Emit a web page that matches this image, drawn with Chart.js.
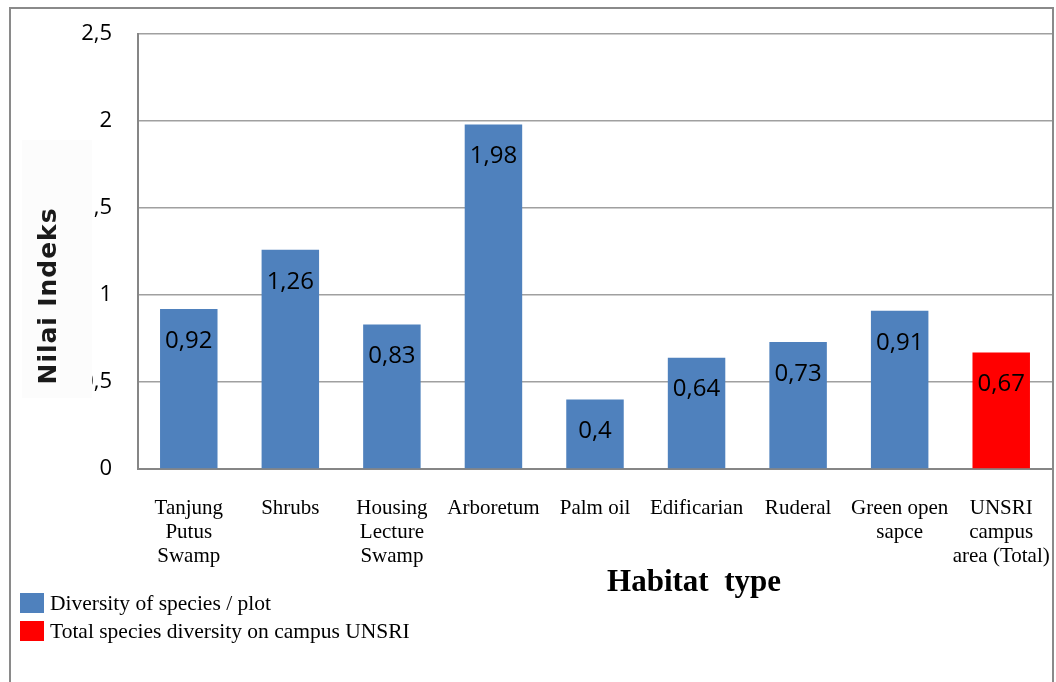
<!DOCTYPE html>
<html>
<head>
<meta charset="utf-8">
<script src="https://cdn.jsdelivr.net/npm/chart.js@4/dist/chart.umd.min.js"></script>
<style>
  html, body { margin: 0; padding: 0; background: #fff; overflow: hidden; }
  #wrap { position: relative; width: 1056px; height: 682px; }
  #frame {
    position: absolute; left: 9px; top: 7px; width: 1045px; height: 700px;
    box-sizing: border-box; border: 2px solid #8a8a8a; border-bottom: none;
    pointer-events: none;
  }
</style>
</head>
<body>
<div id="wrap">
  <canvas id="chart" width="1056" height="682"></canvas>
  <div id="frame"></div>
</div>
<script>
const categories = [
    ['Tanjung', 'Putus', 'Swamp'],
    'Shrubs',
    ['Housing', 'Lecture', 'Swamp'],
    'Arboretum',
    'Palm oil',
    'Edificarian',
    'Ruderal',
    ['Green open', 'sapce'],
    ['UNSRI', 'campus', 'area (Total)']
];
const plotValues = [0.92, 1.26, 0.83, 1.98, 0.4, 0.64, 0.73, 0.91, null];
const totalValues = [null, null, null, null, null, null, null, null, 0.67];
const yTickLabels = ['0', '0,5', '1', '1,5', '2', '2,5'];
const seriesNames = ['Diversity of species / plot', 'Total species diversity on campus UNSRI'];
const yTitle = 'Nilai Indeks';
const xTitle = 'Habitat  type';

const BLUE = '#4f81bd';
const RED = '#ff0000';

function fmt(v) {
    return String(v).replace('.', ',');
}

// value labels inside the top of each bar
const barLabels = {
    id: 'barLabels',
    afterDatasetsDraw(chart) {
        const ctx = chart.ctx;
        ctx.save();
        ctx.font = '24px "Open Sans"';
        ctx.fillStyle = '#000';
        ctx.textAlign = 'center';
        ctx.textBaseline = 'middle';
        chart.data.datasets.forEach((ds, di) => {
            chart.getDatasetMeta(di).data.forEach((bar, i) => {
                const v = ds.data[i];
                if (v === null) return;
                ctx.fillText(fmt(v), bar.x, bar.y + 32);
            });
        });
        ctx.restore();
    }
};

// axis titles and legend, drawn like the original picture
const extras = {
    id: 'extras',
    afterDraw(chart) {
        const ctx = chart.ctx;
        ctx.save();

        // y title sits on a pale box that hides part of the tick labels
        ctx.fillStyle = '#fcfcfc';
        ctx.fillRect(22, 140, 70, 258);
        ctx.translate(49, 296);
        ctx.rotate(-Math.PI / 2);
        ctx.font = 'bold 25px "DejaVu Sans"';
        const w = ctx.measureText(yTitle).width;
        ctx.letterSpacing = Math.max(0, (176 - w) / (yTitle.length - 1)) + 'px';
        ctx.fillStyle = '#1a1a1a';
        ctx.textAlign = 'center';
        ctx.textBaseline = 'middle';
        ctx.fillText(yTitle, 0, 0);
        ctx.restore();

        ctx.save();
        ctx.font = 'bold 31px "Liberation Serif"';
        ctx.fillStyle = '#000';
        ctx.textAlign = 'center';
        ctx.textBaseline = 'middle';
        ctx.fillText(xTitle, 694, 583);

        ctx.font = '21.5px "Liberation Serif"';
        ctx.textAlign = 'left';
        chart.data.datasets.forEach((ds, i) => {
            const y = 593 + i * 28;
            ctx.fillStyle = ds.backgroundColor;
            ctx.fillRect(20, y, 24, 20);
            ctx.fillStyle = '#000';
            ctx.fillText(ds.label, 50, y + 11);
        });
        ctx.restore();
    }
};

new Chart(document.getElementById('chart'), {
    type: 'bar',
    data: {
        labels: categories,
        datasets: [
            { label: seriesNames[0], data: plotValues, backgroundColor: BLUE },
            { label: seriesNames[1], data: totalValues, backgroundColor: RED }
        ]
    },
    options: {
        responsive: false,
        animation: false,
        layout: { padding: { top: 34, right: 4, left: 0, bottom: 0 } },
        datasets: {
            bar: { grouped: false, categoryPercentage: 1, barPercentage: 0.566, borderWidth: 0 }
        },
        plugins: {
            legend: { display: false },
            tooltip: { enabled: false }
        },
        scales: {
            x: {
                grid: { display: false, drawTicks: false },
                border: { color: '#868686', width: 2 },
                ticks: {
                    color: '#000',
                    font: { family: 'Liberation Serif', size: 21, lineHeight: 1.15 },
                    padding: 27,
                    maxRotation: 0,
                    autoSkip: false
                },
                afterFit(scale) {
                    scale.height = 213;
                    scale.paddingLeft = 0;
                    scale.paddingRight = 0;
                }
            },
            y: {
                min: 0,
                max: 2.5,
                grid: { color: '#a0a0a0', lineWidth: 1.5, drawTicks: false },
                border: { color: '#868686', width: 2 },
                ticks: {
                    stepSize: 0.5,
                    color: '#000',
                    font: { family: 'Open Sans', size: 22 },
                    padding: 26,
                    callback: (v, i) => yTickLabels[i]
                },
                afterFit(scale) {
                    scale.width = 138;
                    scale.paddingTop = 0;
                    scale.paddingBottom = 0;
                }
            }
        }
    },
    plugins: [barLabels, extras]
});
</script>
</body>
</html>
